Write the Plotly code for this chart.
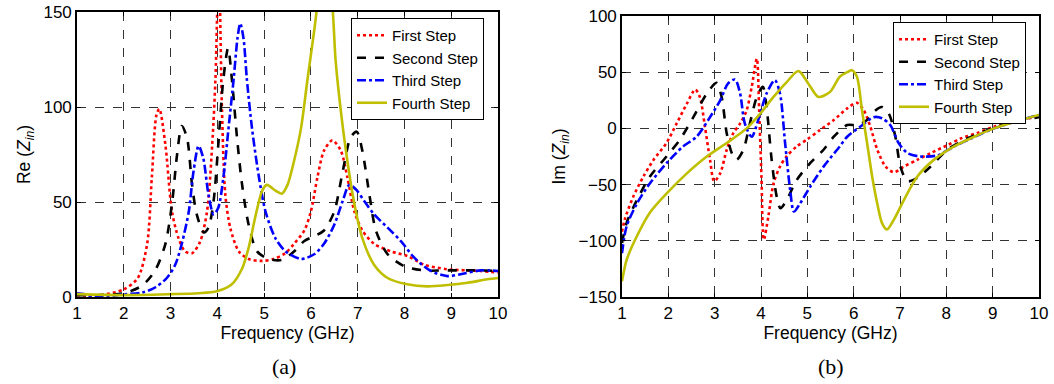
import plotly.graph_objects as go

# ---------------- data: Re(Zin) ----------------
re1_f = [1.0, 1.5, 2.0, 2.3, 2.5, 2.6, 2.7, 2.76, 2.89, 3.03, 3.17, 3.31, 3.46, 3.63, 3.78, 3.89, 3.96, 4.03, 4.1, 4.17, 4.28, 4.46, 4.67, 4.96, 5.2, 5.45, 5.64, 5.86, 6.0, 6.14, 6.28, 6.46, 6.64, 6.78, 6.93, 7.1, 7.35, 7.71, 8.06, 8.42, 8.92, 9.63, 10.0]
re1_v = [1, 1, 4, 10, 28, 63, 96, 99, 80, 45, 31, 24, 23, 29, 45, 80, 115, 175, 98, 54, 36, 24, 20, 19, 20, 23, 28, 35, 45, 63, 77, 82.5, 77, 63, 45, 35, 28, 24, 21.6, 17, 14.6, 13.7, 12.8]

re2_f = [1.0, 1.5, 2.0, 2.39, 2.67, 2.89, 3.03, 3.14, 3.24, 3.35, 3.46, 3.56, 3.71, 3.81, 3.92, 4.02, 4.13, 4.23, 4.31, 4.42, 4.53, 4.67, 4.85, 5.1, 5.38, 5.64, 5.86, 6.07, 6.28, 6.5, 6.68, 6.85, 6.98, 7.1, 7.25, 7.39, 7.64, 7.99, 8.42, 8.92, 9.63, 10.0]
re2_v = [1, 1, 2, 6, 14, 28, 49, 75, 90, 84, 59, 43.5, 34, 36.5, 50.5, 80, 115, 131, 115, 84, 59, 38, 24, 20, 19.5, 24, 29.5, 32, 35, 45, 66, 84, 87, 77, 54, 35, 22.5, 16.3, 14, 14, 14, 13.7]

re3_f = [1.0, 1.15, 1.4, 2.0, 2.39, 2.67, 2.92, 3.1, 3.24, 3.39, 3.49, 3.6, 3.7, 3.81, 3.92, 4.02, 4.13, 4.24, 4.35, 4.43, 4.49, 4.56, 4.63, 4.74, 4.89, 5.03, 5.24, 5.46, 5.79, 6.07, 6.28, 6.5, 6.68, 6.82, 6.96, 7.14, 7.35, 7.64, 7.92, 8.21, 8.56, 8.92, 9.2, 9.63, 10.0]
re3_v = [2, 1.5, 0, 1.4, 2.3, 5, 10, 17, 28, 45, 66, 79.5, 73, 54, 43.5, 47, 63, 89, 115, 136, 144, 136, 115, 89, 63, 45, 31, 24, 20, 22.5, 28, 38, 50.5, 59, 56.7, 50.5, 43.5, 36.5, 29.5, 20.7, 13.7, 11, 12, 14, 13.7]

re4_f = [1.0, 2.0, 3.0, 3.6, 3.99, 4.31, 4.53, 4.67, 4.81, 4.96, 5.06, 5.24, 5.38, 5.5, 5.64, 5.79, 5.93, 6.07, 6.18, 6.3, 6.43, 6.53, 6.64, 6.78, 6.93, 7.1, 7.35, 7.64, 8.06, 8.49, 8.92, 9.35, 9.77, 10.0]
re4_v = [1.5, 1, 1.5, 2, 3, 6.7, 15, 26, 42, 56, 59, 56, 54.4, 59, 71.6, 89, 115, 140, 160, 170, 160, 124, 98, 71.6, 49, 31, 17, 10, 6.7, 5.6, 6.3, 7.5, 9.3, 10]

# ---------------- data: Im(Zin) ----------------
im1_f = [1.0, 1.06, 1.24, 1.46, 1.68, 1.96, 2.18, 2.4, 2.58, 2.68, 2.79, 2.9, 2.99, 3.12, 3.26, 3.4, 3.55, 3.69, 3.8, 3.91, 3.96, 4.01, 4.06, 4.16, 4.27, 4.41, 4.55, 4.77, 4.99, 5.27, 5.57, 5.86, 6.07, 6.22, 6.36, 6.51, 6.69, 6.87, 7.08, 7.37, 7.66, 8.02, 8.31, 8.67, 9.03, 9.47, 10.0]
im1_v = [-92, -81, -61, -43, -28, -13, 4.4, 22, 34.6, 28, 1.5, -28, -47, -40, -19, -4.4, 4.4, 16, 37, 62, 16, -43, -99, -78, -49, -34, -25, -16, -10, -1.5, 7.4, 17.8, 22.8, 16, 1.5, -19, -34, -39, -34, -28, -22, -15, -9, -4, 1.5, 6, 11]

im2_f = [1.0, 1.1, 1.32, 1.6, 1.96, 2.25, 2.54, 2.83, 3.04, 3.15, 3.26, 3.37, 3.47, 3.62, 3.76, 3.91, 4.04, 4.12, 4.23, 4.34, 4.42, 4.55, 4.77, 5.06, 5.35, 5.57, 5.86, 6.07, 6.29, 6.47, 6.61, 6.76, 6.9, 7.01, 7.16, 7.37, 7.66, 8.02, 8.45, 8.89, 9.32, 10.0]
im2_v = [-102, -84, -64, -43, -25, -10, 10, 31, 40.5, 28, -4.4, -22, -28, -19, 4.4, 28, 37, 19, -28, -61, -71, -64, -46, -31, -19, -7.4, 3, 3, 7.4, 16, 19, 13, -7.4, -34, -47, -44, -34, -19, -9, -1.5, 4.4, 10]

im3_f = [1.0, 1.1, 1.32, 1.6, 1.96, 2.32, 2.61, 2.9, 3.12, 3.29, 3.44, 3.55, 3.65, 3.8, 3.94, 4.12, 4.3, 4.41, 4.52, 4.63, 4.71, 4.84, 5.06, 5.35, 5.7, 5.86, 6.14, 6.43, 6.61, 6.79, 6.97, 7.16, 7.44, 7.81, 8.17, 8.53, 9.03, 10.0]
im3_v = [-111, -87, -67, -49, -31, -16, -7.4, 10, 25, 40, 43.5, 31, 4.4, -7.4, 7.4, 31, 43, 31, -13, -55, -74, -67, -52, -34, -16, -7.4, 1.5, 10, 9, 3, -13, -22, -25, -24, -16, -9, 0, 12]

im4_f = [1.0, 1.1, 1.32, 1.6, 1.96, 2.4, 2.83, 3.26, 3.69, 3.98, 4.27, 4.55, 4.81, 5.02, 5.24, 5.49, 5.7, 5.86, 5.96, 6.07, 6.18, 6.29, 6.4, 6.51, 6.61, 6.72, 6.87, 7.08, 7.37, 7.73, 8.17, 8.6, 9.03, 10.0]
im4_v = [-136, -117, -96, -75, -58, -40, -25, -13, 0, 13, 28, 41, 51, 40, 28, 32.5, 46, 50, 51.8, 46, 16, -13, -43, -67, -84, -90, -81, -64, -43, -28, -16, -7.4, 0, 12]

names = ["First Step", "Second Step", "Third Step", "Fourth Step"]
x_ticks = [1, 2, 3, 4, 5, 6, 7, 8, 9, 10]
re_ticks = [0, 50, 100, 150]
im_ticks = [-150, -100, -50, 0, 50, 100]

colors = ["#FF0000", "#000000", "#0000FF", "#BFBF00"]
dashes = ["dot", "dash", "dashdot", "solid"]

re_data = [(re1_f, re1_v), (re2_f, re2_v), (re3_f, re3_v), (re4_f, re4_v)]
im_data = [(im1_f, im1_v), (im2_f, im2_v), (im3_f, im3_v), (im4_f, im4_v)]

fig = go.Figure()
for i, (f, v) in enumerate(re_data):
    fig.add_trace(go.Scatter(x=f, y=v, mode="lines", name=names[i],
                             line=dict(color=colors[i], dash=dashes[i], width=2.6,
                                       shape="spline", smoothing=0.8),
                             xaxis="x", yaxis="y", legend="legend"))
for i, (f, v) in enumerate(im_data):
    fig.add_trace(go.Scatter(x=f, y=v, mode="lines", name=names[i],
                             line=dict(color=colors[i], dash=dashes[i], width=2.6,
                                       shape="spline", smoothing=0.8),
                             xaxis="x2", yaxis="y2", legend="legend2"))

W, H = 1054, 384
FONT = "Liberation Sans, Arial"
tickfont = dict(family=FONT, size=17, color="black")
titlefont = dict(family=FONT, size=17.5, color="black")
legfont = dict(family=FONT, size=15, color="black")

axis_common = dict(showline=True, linecolor="black", linewidth=1.6, mirror="ticks",
                   ticks="inside", ticklen=4, tickcolor="black",
                   showgrid=True, gridcolor="#333333", gridwidth=1, griddash="dash",
                   zeroline=False, tickfont=tickfont, automargin=False)

fig.update_layout(
    template="none",
    width=W, height=H,
    margin=dict(l=0, r=0, t=0, b=0, autoexpand=False),
    paper_bgcolor="white", plot_bgcolor="white",
    xaxis=dict(domain=[77 / W, 498 / W], range=[1, 10], tickvals=x_ticks,
               title=dict(text="Frequency (GHz)", font=titlefont, standoff=3),
               anchor="y", **axis_common),
    yaxis=dict(domain=[1 - 297 / H, 1 - 12 / H], range=[0, 150], tickvals=re_ticks,
               title=dict(text="Re (<i>Z</i><sub><i>in</i></sub>)", font=titlefont, standoff=8),
               anchor="x", **axis_common),
    xaxis2=dict(domain=[622 / W, 1039 / W], range=[1, 10], tickvals=x_ticks,
                title=dict(text="Frequency (GHz)", font=titlefont, standoff=3),
                anchor="y2", **axis_common),
    yaxis2=dict(domain=[1 - 297 / H, 1 - 16 / H], range=[-150, 100], tickvals=im_ticks,
                title=dict(text="Im (<i>Z</i><sub><i>in</i></sub>)", font=titlefont, standoff=8),
                anchor="x2", **axis_common),
    legend=dict(x=351 / W, y=1 - 18 / H, xanchor="left", yanchor="top",
                bgcolor="white", bordercolor="black", borderwidth=1,
                font=legfont, tracegroupgap=0, itemwidth=30),
    legend2=dict(x=893 / W, y=1 - 22 / H, xanchor="left", yanchor="top",
                 bgcolor="white", bordercolor="black", borderwidth=1,
                 font=legfont, tracegroupgap=0, itemwidth=30),
    annotations=[
        dict(text="(a)", x=284 / W, y=1 - 366 / H, xref="paper", yref="paper",
             xanchor="center", yanchor="middle", showarrow=False,
             font=dict(family="Liberation Serif, Times New Roman", size=22, color="black")),
        dict(text="(b)", x=831 / W, y=1 - 366 / H, xref="paper", yref="paper",
             xanchor="center", yanchor="middle", showarrow=False,
             font=dict(family="Liberation Serif, Times New Roman", size=22, color="black")),
    ],
)

fig.write_html("out.html", config={"displayModeBar": False},
               post_script="document.body.style.margin='0';document.body.style.overflow='hidden';")
